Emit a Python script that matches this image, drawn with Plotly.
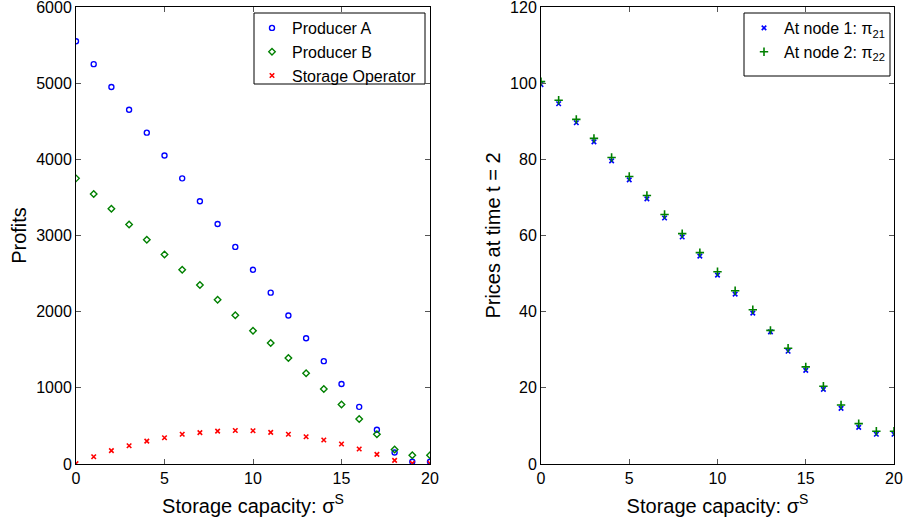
import plotly.graph_objects as go

capacity = list(range(21))
producer_a = [5550, 5250, 4950, 4650, 4350, 4050, 3750, 3450, 3150, 2850, 2550,
              2250, 1950, 1650, 1350, 1050, 750, 450, 150, 30, 30]
producer_b = [3750, 3545, 3350, 3145, 2945, 2750, 2550, 2350, 2155, 1953, 1750,
              1590, 1393, 1190, 985, 780, 590, 390, 190, 114, 114]
storage_op = [5, 95, 175, 240, 300, 345, 390, 412, 432, 440, 437,
              415, 390, 358, 315, 262, 197, 127, 48, 8, 8]
price_node1 = [99.6, 94.6, 89.6, 84.6, 79.6, 74.6, 69.6, 64.6, 59.6, 54.6, 49.6,
               44.6, 39.6, 34.7, 29.6, 24.6, 19.6, 14.6, 9.6, 7.8, 7.8]
price_node2 = [100.4, 95.5, 90.5, 85.5, 80.5, 75.5, 70.5, 65.5, 60.5, 55.5, 50.5,
               45.5, 40.5, 35.1, 30.4, 25.5, 20.4, 15.5, 10.6, 8.6, 8.6]

x_ticks = [0, 5, 10, 15, 20]
profit_ticks = [0, 1000, 2000, 3000, 4000, 5000, 6000]
price_ticks = [0, 20, 40, 60, 80, 100, 120]

FONT = "Liberation Sans, Arial, Helvetica, sans-serif"
W, H = 905, 523

fig = go.Figure()
fig.add_trace(go.Scatter(x=capacity, y=producer_a, mode="markers", name="Producer A",
                         marker=dict(symbol="circle-open", size=5, color="#0000ff", line=dict(width=1.4)),
                         xaxis="x", yaxis="y", legend="legend"))
fig.add_trace(go.Scatter(x=capacity, y=producer_b, mode="markers", name="Producer B",
                         marker=dict(symbol="diamond-open", size=5, color="#008000", line=dict(width=1.4)),
                         xaxis="x", yaxis="y", legend="legend"))
fig.add_trace(go.Scatter(x=capacity, y=storage_op, mode="markers", name="Storage Operator",
                         marker=dict(symbol="x-thin-open", size=4.5, color="#ff0000", line=dict(width=1.6)),
                         xaxis="x", yaxis="y", legend="legend"))
fig.add_trace(go.Scatter(x=capacity, y=price_node1, mode="markers", name="At node 1: π<sub>21</sub>",
                         marker=dict(symbol="x-thin-open", size=4.5, color="#0000ff", line=dict(width=1.6)),
                         xaxis="x2", yaxis="y2", legend="legend2"))
fig.add_trace(go.Scatter(x=capacity, y=price_node2, mode="markers", name="At node 2: π<sub>22</sub>",
                         marker=dict(symbol="cross-thin-open", size=6, color="#008000", line=dict(width=1.6)),
                         xaxis="x2", yaxis="y2", legend="legend2"))

axis_common = dict(showline=True, linecolor="black", linewidth=1, mirror="ticks",
                   ticks="inside", ticklen=5, tickcolor="#555555", showgrid=False, zeroline=False,
                   automargin=False, ticklabeloverflow="allow",
                   tickfont=dict(family=FONT, size=16, color="black"))

legend_box_style = dict(type="rect", xref="paper", yref="paper", layer="below",
                        line=dict(color="black", width=1), fillcolor="white")

fig.update_layout(
    width=W, height=H,
    margin=dict(l=0, r=0, t=0, b=0),
    paper_bgcolor="white", plot_bgcolor="white",
    font=dict(family=FONT, color="black"),
    xaxis=dict(domain=[76/W, 430/W], range=[0, 20], tickvals=x_ticks,
               title=dict(text="Storage capacity: σ<sup>S</sup>", font=dict(size=20), standoff=12),
               anchor="y", **axis_common),
    yaxis=dict(domain=[59/H, 516/H], range=[0, 6000], tickvals=profit_ticks,
               title=dict(text="Profits", font=dict(size=20), standoff=4),
               anchor="x", **axis_common),
    xaxis2=dict(domain=[541/W, 894/W], range=[0, 20], tickvals=x_ticks,
                title=dict(text="Storage capacity: σ<sup>S</sup>", font=dict(size=20), standoff=12),
                anchor="y2", **axis_common),
    yaxis2=dict(domain=[59/H, 516/H], range=[0, 120], tickvals=price_ticks,
                title=dict(text="Prices at time t = 2", font=dict(size=20), standoff=4),
                anchor="x2", **axis_common),
    legend=dict(x=252/W, y=1 - 11/H, xanchor="left", yanchor="top",
                bgcolor="rgba(0,0,0,0)", borderwidth=0,
                font=dict(family=FONT, size=16, color="black"), itemwidth=30),
    legend2=dict(x=744/W, y=1 - 11/H, xanchor="left", yanchor="top",
                 bgcolor="rgba(0,0,0,0)", borderwidth=0,
                 font=dict(family=FONT, size=16, color="black"), itemwidth=30),
    shapes=[
        dict(x0=254/W, x1=425/W, y0=1 - 84/H, y1=1 - 13/H, **legend_box_style),
        dict(x0=744/W, x1=890/W, y0=1 - 76/H, y1=1 - 13/H, **legend_box_style),
    ],
)

fig.write_html("out.html", config={"displayModeBar": False},
               post_script="document.body.style.margin='0';document.body.style.overflow='hidden';")
